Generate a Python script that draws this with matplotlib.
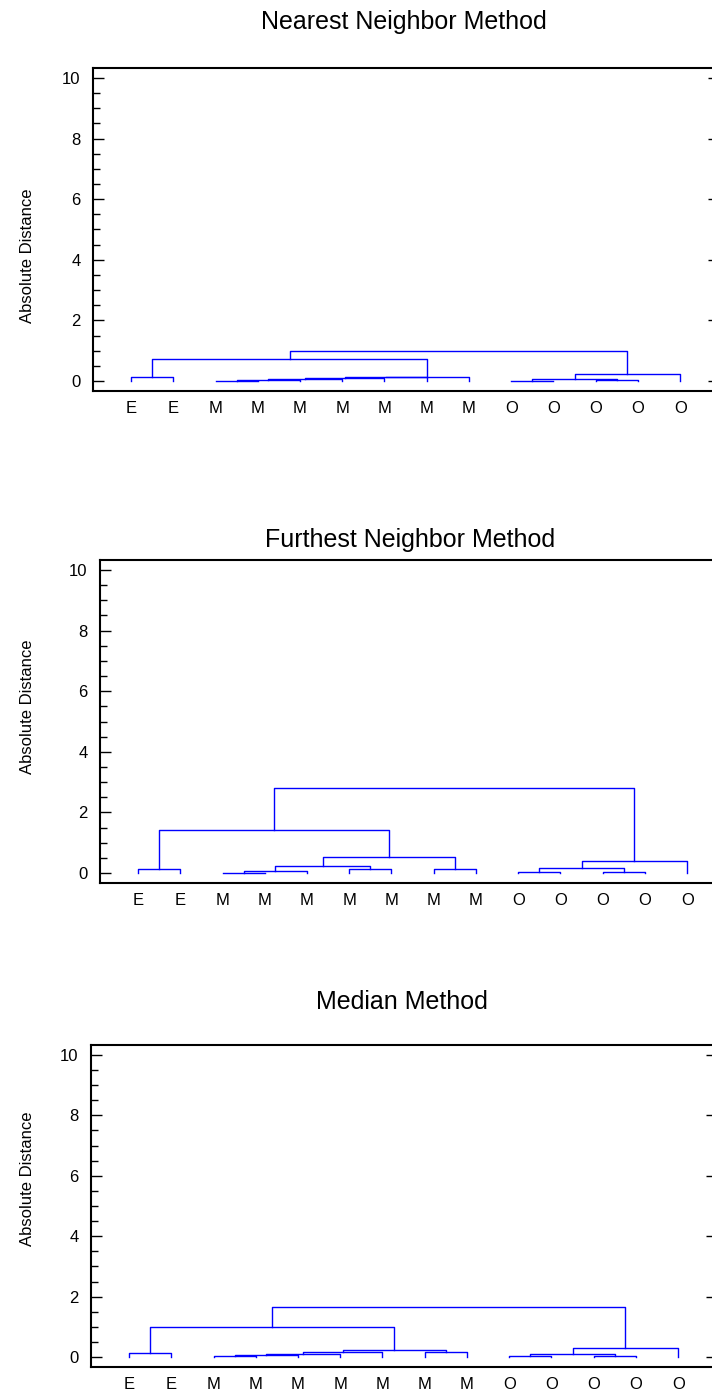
import matplotlib
matplotlib.use('Agg')
import matplotlib.pyplot as plt
from matplotlib.ticker import MultipleLocator

plt.rcParams['font.family'] = ['Liberation Sans', 'DejaVu Sans']

# leaves (left to right) and the merge steps of each clustering,
# leaf ids 0..13, new clusters numbered 14, 15, ... in merge order
leaf_labels = ['E', 'E', 'M', 'M', 'M', 'M', 'M', 'M', 'M', 'O', 'O', 'O', 'O', 'O']

nearest_merges = [(2, 3), (14, 4), (15, 5), (16, 6), (17, 7), (18, 8), (0, 1),
                  (20, 19), (9, 10), (11, 12), (22, 23), (24, 13), (21, 25)]
nearest_heights = [0.01, 0.035, 0.06, 0.09, 0.12, 0.14, 0.14,
                   0.73, 0.01, 0.03, 0.05, 0.23, 1.0]

furthest_merges = [(2, 3), (14, 4), (5, 6), (15, 16), (7, 8), (17, 18), (0, 1),
                   (20, 19), (9, 10), (11, 12), (22, 23), (24, 13), (21, 25)]
furthest_heights = [0.01, 0.05, 0.13, 0.22, 0.13, 0.53, 0.13,
                    1.41, 0.02, 0.04, 0.16, 0.40, 2.81]

median_merges = [(2, 3), (14, 4), (15, 5), (16, 6), (7, 8), (17, 18), (0, 1),
                 (20, 19), (9, 10), (11, 12), (22, 23), (24, 13), (21, 25)]
median_heights = [0.03, 0.07, 0.11, 0.16, 0.17, 0.23, 0.15,
                  1.01, 0.05, 0.05, 0.11, 0.30, 1.65]

titles = ['Nearest Neighbor Method', 'Furthest Neighbor Method', 'Median Method']
ylabel = 'Absolute Distance'

W, H = 712, 1395
# axes boxes in pixels: left, top, width, height
boxes = [(93, 68, 621, 323), (100, 560, 621, 323), (91, 1045, 621, 322)]
title_pads = [28, 9, 26]
ylabel_pos = [0.42, 0.545, 0.585]


def draw_dendrogram(ax, merges, heights):
    xs = [i + 1 for i in range(len(leaf_labels))]
    ys = [0.0] * len(leaf_labels)
    for (a, b), h in zip(merges, heights):
        ax.plot([xs[a], xs[a], xs[b], xs[b]], [ys[a], h, h, ys[b]],
                color='#0000ff', lw=1)
        xs.append((xs[a] + xs[b]) / 2)
        ys.append(h)


fig = plt.figure(figsize=(W / 100, H / 100), dpi=100)
data = [(nearest_merges, nearest_heights),
        (furthest_merges, furthest_heights),
        (median_merges, median_heights)]

for i, (l, t, w, h) in enumerate(boxes):
    merges, heights = data[i]
    ax = fig.add_axes([l / W, 1 - (t + h) / H, w / W, h / H])
    draw_dendrogram(ax, merges, heights)

    ax.set_xlim(0.1, 14.8)
    ax.set_ylim(-0.33, 10.33)
    ax.set_xticks(range(1, len(leaf_labels) + 1))
    ax.set_xticklabels(leaf_labels)
    ax.yaxis.set_major_locator(MultipleLocator(2))
    ax.yaxis.set_minor_locator(MultipleLocator(0.5))
    ax.tick_params(axis='x', length=0, pad=7, labelsize=12)
    ax.tick_params(axis='y', which='major', direction='in', length=8,
                   width=1, right=True, labelsize=12, pad=9)
    ax.tick_params(axis='y', which='minor', direction='in', length=5,
                   width=1, right=False)
    for tk in ax.yaxis.get_major_ticks():
        tk.tick2line.set_markersize(4)

    for side in ['left', 'top', 'bottom']:
        ax.spines[side].set_linewidth(1.5)
    ax.spines['right'].set_visible(False)

    ax.set_title(titles[i], fontsize=18, pad=title_pads[i])
    ax.set_ylabel(ylabel, fontsize=12)
    ax.yaxis.set_label_coords((35 - l) / w, ylabel_pos[i])

fig.savefig('out.png', dpi=100)
plt.close(fig)
